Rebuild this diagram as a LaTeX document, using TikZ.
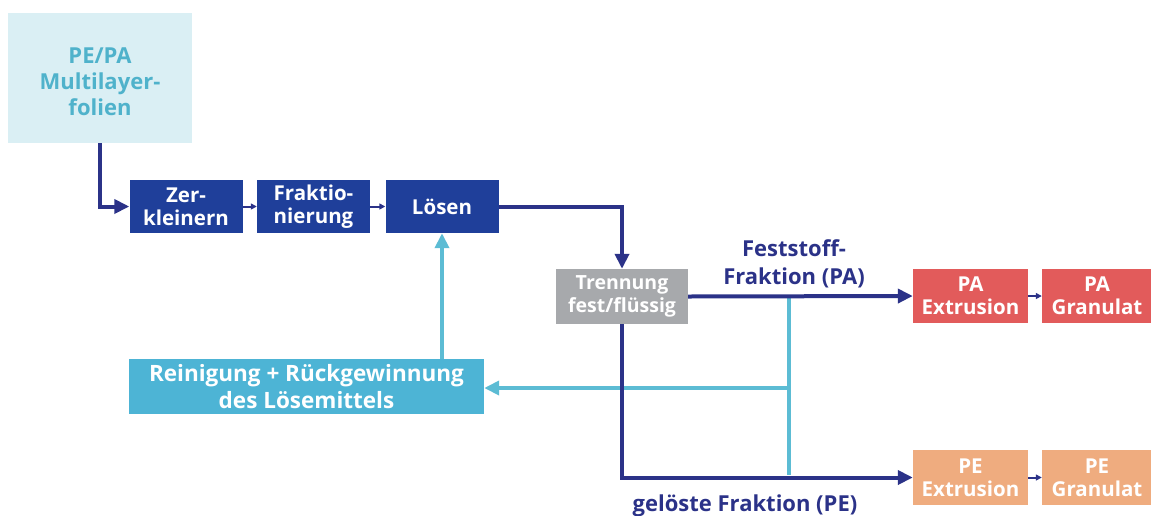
\documentclass[tikz,border=0pt]{standalone}
\usepackage{fontspec}
\setmainfont{Open Sans}
\usetikzlibrary{arrows.meta}
\definecolor{srcfill}{HTML}{DAEFF4}
\definecolor{srctext}{HTML}{4FB2CB}
\definecolor{darkbox}{HTML}{1F3F9A}
\definecolor{navy}{HTML}{2B3288}
\definecolor{grayb}{HTML}{A7A9AC}
\definecolor{redb}{HTML}{E25B5B}
\definecolor{peach}{HTML}{EFAC7F}
\definecolor{cyanb}{HTML}{4DB4D5}
\definecolor{cyanl}{HTML}{5CBCD4}
\tikzset{
  box/.style={inner sep=0pt, align=center, font=\bfseries\fontsize{20.5}{23}\selectfont, text=white},
  darkstep/.style={box, fill=darkbox, minimum width=113pt, minimum height=53pt},
  navyline/.style={draw=navy, line width=4pt, -{Triangle[length=15pt,width=14pt]}},
  smallarr/.style={draw=navy, line width=2pt, -{Triangle[length=6pt,width=6pt]}},
  cyanline/.style={draw=cyanl, line width=4pt},
  cyanarr/.style={cyanline, -{Triangle[length=15pt,width=14pt]}},
  lbl/.style={text=navy, align=center, font=\bfseries\fontsize{22}{28}\selectfont}
}
\begin{document}
\begin{tikzpicture}[x=1pt,y=-1pt]
\useasboundingbox (0,0) rectangle (1151,515);
% nodes
\node[box, fill=srcfill, minimum width=184pt, minimum height=130pt] (src) at (100,78) {};
\node[box, text=srctext, font=\bfseries\fontsize{22}{26}\selectfont] (srctxt) at (100,82) {PE/PA\\Multilayer-\\folien};
\node[darkstep] (zer) at (186,206.5) {Zer-\\kleinern};
\node[darkstep] (frak) at (313.5,206.5) {Fraktio-\\nierung};
\node[darkstep] (loesen) at (442,206.5) {Lösen};
\node[box, fill=grayb, minimum width=132pt, minimum height=55pt, font=\bfseries\fontsize{19.5}{23}\selectfont] (trenn) at (622,296.5) {Trennung\\fest/flüssig};
\node[box, fill=redb, minimum width=115pt, minimum height=54pt] (paext) at (970.5,296) {PA\\Extrusion};
\node[box, fill=redb, minimum width=110pt, minimum height=54pt] (pagran) at (1097,296) {PA\\Granulat};
\node[box, fill=peach, minimum width=115pt, minimum height=55pt] (peext) at (970.5,477.5) {PE\\Extrusion};
\node[box, fill=peach, minimum width=110pt, minimum height=55pt] (pegran) at (1097,477.5) {PE\\Granulat};
\node[box, fill=cyanb, minimum width=355pt, minimum height=55pt,
  font=\bfseries\fontsize{22.5}{27}\selectfont] (rein) at (306.5,386.5) {Reinigung + Rückgewinnung\\des Lösemittels};
\node[lbl] (lpa) at (794,264) {Feststoff-\\Fraktion (PA)};
\node[lbl] (lpe) at (745,506) {gelöste Fraktion (PE)};
% coordinates
\coordinate (ta) at (789,296.5);
\coordinate (tb) at (789,475);
\coordinate (tm) at (789,388);
% dark connectors
\draw[navyline] (src.south) |- (zer.west);
\draw[smallarr] (zer.east) -- (frak.west);
\draw[smallarr] (frak.east) -- (loesen.west);
\draw[navyline] (loesen.east) -| (trenn.north);
\draw[smallarr] (paext.east) -- (pagran.west);
\draw[smallarr] (peext.east) -- (pegran.west);
% cyan connectors
\draw[cyanline] (ta) -- (tb);
\draw[cyanarr] (tm) -- (tm -| rein.east);
\draw[cyanarr] (rein.north -| loesen.south) -- (loesen.south);
% dark main
\draw[navyline] (trenn.east) -- (paext.west);
\draw[navyline] (trenn.south) |- (peext.west);
\end{tikzpicture}
\end{document}
